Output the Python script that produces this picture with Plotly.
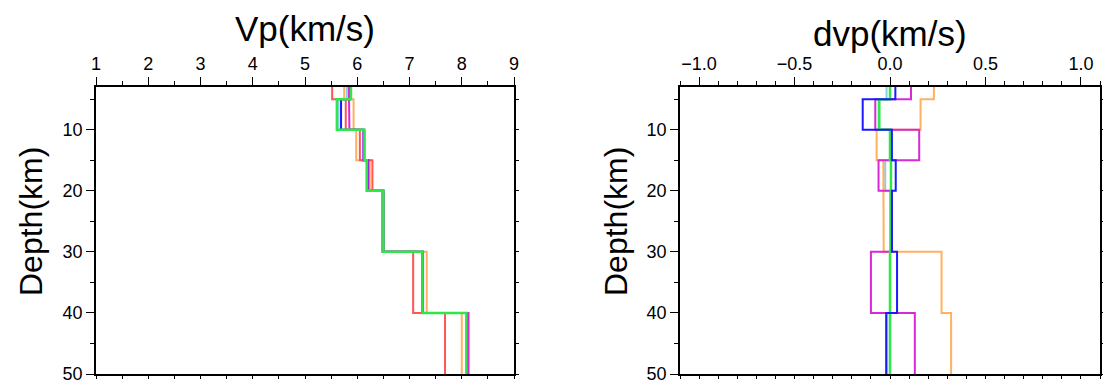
import plotly.graph_objects as go

# ---------------- data ----------------
depth_edges = [3, 5, 10, 15, 20, 30, 40, 50]

vp_red     = [5.52, 5.78, 6.05, 6.29, 6.50, 7.07, 7.68]
vp_orange  = [5.75, 5.93, 5.98, 6.24, 6.50, 7.33, 8.00]
vp_cyan    = [5.80, 5.64, 6.13, 6.19, 6.50, 7.25, 8.08]
vp_blue    = [5.86, 5.69, 6.12, 6.21, 6.50, 7.26, 8.10]
vp_magenta = [5.84, 5.85, 6.12, 6.20, 6.48, 7.24, 8.13]
vp_green   = [5.88, 5.61, 6.14, 6.18, 6.50, 7.25, 8.09]

dvp_orange  = [0.23, 0.16, -0.07, -0.035, -0.033, 0.27, 0.32]
dvp_magenta = [0.11, -0.077, 0.153, -0.06, 0.01, -0.10, 0.13]
dvp_cyan    = [-0.018, -0.06, 0.0, -0.025, 0.0, 0.0, -0.015]
dvp_blue    = [0.028, -0.143, 0.01, 0.03, 0.01, 0.037, -0.02]
dvp_green   = [0.0, -0.056, 0.0, 0.005, 0.005, 0.0, 0.0]

vp_ticks = [1, 2, 3, 4, 5, 6, 7, 8, 9]
dvp_ticks = [-1.0, -0.5, 0.0, 0.5, 1.0]
depth_ticks = [10, 20, 30, 40, 50]

C_RED = "#ff5555"
C_ORANGE = "#ffb060"
C_CYAN = "#88d0e4"
C_BLUE = "#1a1aff"
C_MAGENTA = "#d62ad6"
C_GREEN = "#2ee848"

FONT = "Liberation Sans, Arial, Helvetica, sans-serif"


def step_xy(values, edges):
    xs, ys = [], []
    for i, v in enumerate(values):
        xs += [v, v]
        ys += [edges[i], edges[i + 1]]
    return xs, ys


fig = go.Figure()

left_series = [
    (vp_cyan, C_CYAN, 2.0),
    (vp_orange, C_ORANGE, 2.0),
    (vp_red, C_RED, 2.0),
    (vp_blue, C_BLUE, 2.0),
    (vp_magenta, C_MAGENTA, 2.0),
    (vp_green, C_GREEN, 2.5),
]
for vals, col, w in left_series:
    x, y = step_xy(vals, depth_edges)
    fig.add_trace(go.Scatter(x=x, y=y, mode="lines", line=dict(color=col, width=w),
                             xaxis="x", yaxis="y", showlegend=False, hoverinfo="skip"))

right_series = [
    (dvp_cyan, C_CYAN, 2.0),
    (dvp_orange, C_ORANGE, 2.0),
    (dvp_magenta, C_MAGENTA, 2.0),
    (dvp_green, C_GREEN, 2.5),
    (dvp_blue, C_BLUE, 2.0),
]
for vals, col, w in right_series:
    x, y = step_xy(vals, depth_edges)
    fig.add_trace(go.Scatter(x=x, y=y, mode="lines", line=dict(color=col, width=w),
                             xaxis="x2", yaxis="y2", showlegend=False, hoverinfo="skip"))

# dummy traces so the overlay (tick-only) axes are drawn
for xa, ya in (("x3", "y3"), ("x4", "y4")):
    fig.add_trace(go.Scatter(x=[None], y=[None], xaxis=xa, yaxis=ya,
                             showlegend=False, hoverinfo="skip"))

W, H = 1103, 385
L_X = [96 / W, 514 / W]
R_X = [680 / W, 1100 / W]
Y_D = [1 - 374 / H, 1 - 87 / H]
VP_RANGE = [1, 9]
DVP_RANGE = [-1.1, 1.1]
DEPTH_RANGE = [50, 3]

tickfont = dict(family=FONT, size=18, color="black")
axis_common = dict(showgrid=False, zeroline=False, showline=True, linecolor="black",
                   linewidth=1.5, ticks="outside", tickcolor="black", tickwidth=1.2,
                   ticklen=8, tickfont=tickfont, mirror=True, automargin=False)
overlay_common = dict(showgrid=False, zeroline=False, showline=False, showticklabels=False,
                      ticks="outside", tickcolor="black", ticklen=4, tickwidth=1.2,
                      automargin=False)

fig.update_layout(
    width=W, height=H,
    margin=dict(l=0, r=0, t=0, b=0, autoexpand=False),
    paper_bgcolor="white", plot_bgcolor="white",
    xaxis=dict(domain=L_X, range=VP_RANGE, side="top", anchor="y",
               tickmode="array", tickvals=vp_ticks, ticktext=[str(t) for t in vp_ticks],
               minor=dict(dtick=0.5, tick0=1, ticklen=4, ticks="outside", tickcolor="black"),
               **axis_common),
    yaxis=dict(domain=Y_D, range=DEPTH_RANGE, anchor="x",
               tickmode="array", tickvals=depth_ticks, ticktext=[str(t) for t in depth_ticks],
               minor=dict(dtick=5, tick0=0, ticklen=4, ticks="outside", tickcolor="black"),
               **axis_common),
    xaxis2=dict(domain=R_X, range=DVP_RANGE, side="top", anchor="y2",
                tickmode="array", tickvals=dvp_ticks, ticktext=["\u22121.0", "\u22120.5", "0.0", "0.5", "1.0"],
                minor=dict(dtick=0.1, tick0=0, ticklen=4, ticks="outside", tickcolor="black"),
                **axis_common),
    yaxis2=dict(domain=Y_D, range=DEPTH_RANGE, anchor="x2",
                tickmode="array", tickvals=depth_ticks, ticktext=[str(t) for t in depth_ticks],
                minor=dict(dtick=5, tick0=0, ticklen=4, ticks="outside", tickcolor="black"),
                **axis_common),
    # tick-only bottom/right axes
    xaxis3=dict(overlaying="x", range=VP_RANGE, side="bottom", anchor="y", dtick=0.5, tick0=1,
                **overlay_common),
    yaxis3=dict(overlaying="y", range=DEPTH_RANGE, side="right", anchor="x", dtick=5, tick0=0,
                **overlay_common),
    xaxis4=dict(overlaying="x2", range=DVP_RANGE, side="bottom", anchor="y2", dtick=0.1, tick0=0,
                **overlay_common),
    yaxis4=dict(overlaying="y2", range=DEPTH_RANGE, side="right", anchor="x2", dtick=5, tick0=0,
                **overlay_common),
)

titlefont = dict(family=FONT, size=35, color="black")
labelfont = dict(family=FONT, size=32, color="black")
fig.add_annotation(text="Vp(km/s)", x=(L_X[0] + L_X[1]) / 2, y=1 - 28 / H, xref="paper", yref="paper",
                   showarrow=False, font=titlefont, xanchor="center", yanchor="middle")
fig.add_annotation(text="dvp(km/s)", x=(R_X[0] + R_X[1]) / 2, y=1 - 33 / H, xref="paper", yref="paper",
                   showarrow=False, font=titlefont, xanchor="center", yanchor="middle")
fig.add_annotation(text="Depth(km)", x=31 / W, y=1 - 222 / H, xref="paper", yref="paper",
                   showarrow=False, font=labelfont, textangle=-90, xanchor="center", yanchor="middle")
fig.add_annotation(text="Depth(km)", x=616 / W, y=1 - 222 / H, xref="paper", yref="paper",
                   showarrow=False, font=labelfont, textangle=-90, xanchor="center", yanchor="middle")

fig.write_html("out.html")
